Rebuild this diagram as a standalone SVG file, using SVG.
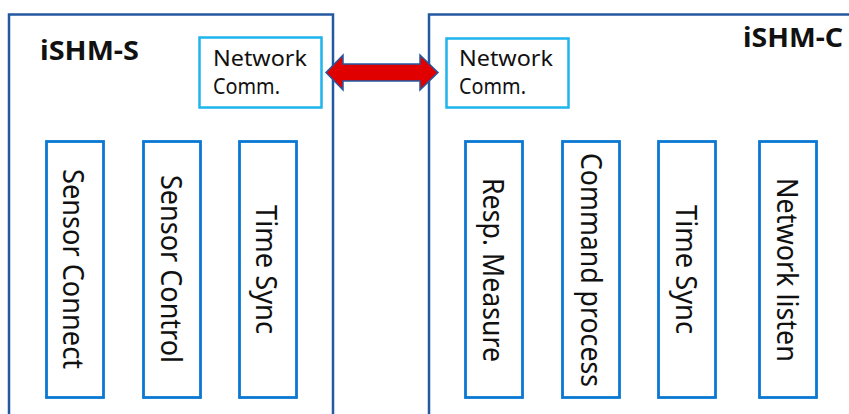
<svg xmlns="http://www.w3.org/2000/svg" width="849" height="414" viewBox="0 0 849 414">
<style>
.big{fill:#fff;stroke:#2458A0;stroke-width:2.5}
.nc{fill:#fff;stroke:#1EB4EE;stroke-width:2.5}
.mod{fill:#fff;stroke:#0A78D2;stroke-width:2.8}
.title{font-family:"Noto Sans","Open Sans",sans-serif;font-weight:bold;font-size:26px;fill:#111}
.lbl{font-family:"Noto Sans","Open Sans",sans-serif;font-size:22px;fill:#111}
.vl{font-family:"Noto Sans","Open Sans",sans-serif;font-size:29px;fill:#111;text-anchor:middle}
</style>
<rect width="849" height="414" fill="#fff"/>
<g id="ishm-s">
<rect class="big" x="9" y="14.5" width="324" height="420"/>
<text class="title" x="40" y="60" textLength="99" lengthAdjust="spacingAndGlyphs">iSHM-S</text>
</g>
<g id="ishm-c">
<rect class="big" x="429" y="14.5" width="440" height="420"/>
<text class="title" x="743" y="47" textLength="100" lengthAdjust="spacingAndGlyphs">iSHM-C</text>
</g>
<g id="nc-s">
<rect class="nc" x="199.5" y="37.5" width="122" height="70"/>
<text class="lbl" x="213" y="66" textLength="94" lengthAdjust="spacingAndGlyphs">Network</text>
<text class="lbl" x="213" y="94" textLength="67" lengthAdjust="spacingAndGlyphs">Comm.</text>
</g>
<g id="nc-c">
<rect class="nc" x="446.5" y="38.5" width="122" height="69"/>
<text class="lbl" x="459" y="66" textLength="94" lengthAdjust="spacingAndGlyphs">Network</text>
<text class="lbl" x="459" y="94" textLength="67" lengthAdjust="spacingAndGlyphs">Comm.</text>
</g>
<g id="sensor-connect">
<rect class="mod" x="46.5" y="141.5" width="57" height="256"/>
<text class="vl" transform="translate(74,269) rotate(90)" y="11" textLength="200" lengthAdjust="spacingAndGlyphs">Sensor Connect</text>
</g>
<g id="sensor-control">
<rect class="mod" x="143.5" y="141.5" width="57" height="256"/>
<text class="vl" transform="translate(172,269) rotate(90)" y="11" textLength="188" lengthAdjust="spacingAndGlyphs">Sensor Control</text>
</g>
<g id="time-sync-s">
<rect class="mod" x="239.5" y="141.5" width="57" height="256"/>
<text class="vl" transform="translate(267,269.5) rotate(90)" y="11" textLength="129" lengthAdjust="spacingAndGlyphs">Time Sync</text>
</g>
<g id="resp-measure">
<rect class="mod" x="465.5" y="141.5" width="57" height="256"/>
<text class="vl" transform="translate(494,270) rotate(90)" y="11" textLength="184" lengthAdjust="spacingAndGlyphs">Resp. Measure</text>
</g>
<g id="command-process">
<rect class="mod" x="562.5" y="141.5" width="57" height="256"/>
<text class="vl" transform="translate(592,270) rotate(90)" y="11" textLength="234" lengthAdjust="spacingAndGlyphs">Command process</text>
</g>
<g id="time-sync-c">
<rect class="mod" x="658.5" y="141.5" width="57" height="256"/>
<text class="vl" transform="translate(687,269.5) rotate(90)" y="11" textLength="129" lengthAdjust="spacingAndGlyphs">Time Sync</text>
</g>
<g id="network-listen">
<rect class="mod" x="759.5" y="141.5" width="57" height="256"/>
<text class="vl" transform="translate(788,270) rotate(90)" y="11" textLength="184" lengthAdjust="spacingAndGlyphs">Network listen</text>
</g>
<g id="connectors">
<polygon points="326,72.5 343,55 343,64 420,64 420,55 438,72.5 420,90 420,81 343,81 343,90" fill="#E00000" stroke="#2458A0" stroke-width="1.5" stroke-linejoin="miter"/>
</g>
</svg>
